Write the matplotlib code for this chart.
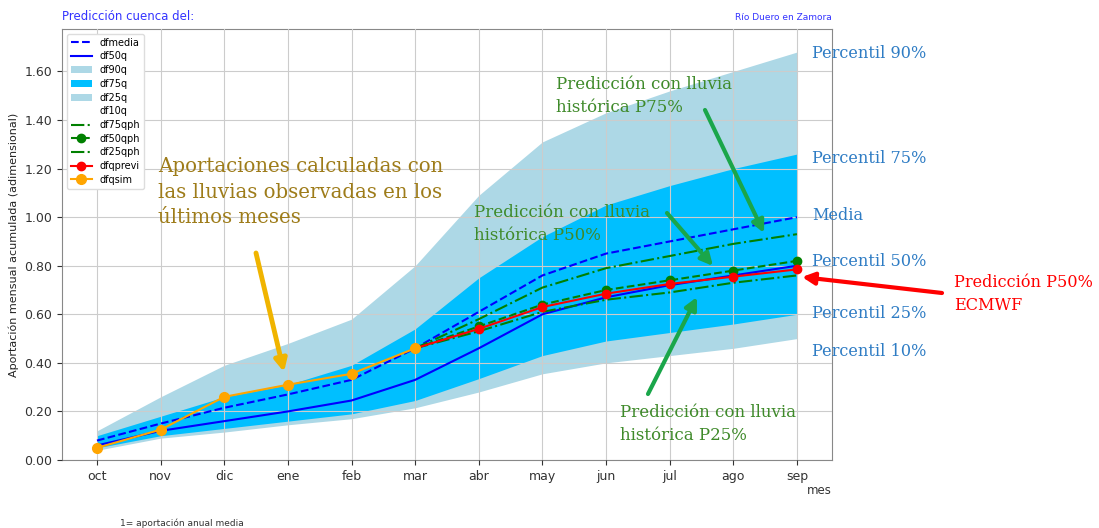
import matplotlib
matplotlib.use("Agg")
import matplotlib.pyplot as plt
import numpy as np

meses = ["oct", "nov", "dic", "ene", "feb", "mar", "abr", "may", "jun", "jul", "ago", "sep"]
df90q = [0.12, 0.26, 0.39, 0.48, 0.58, 0.80, 1.09, 1.31, 1.43, 1.52, 1.60, 1.68]
df75q = [0.10, 0.18, 0.26, 0.31, 0.39, 0.54, 0.75, 0.92, 1.05, 1.13, 1.20, 1.26]
df25q = [0.05, 0.10, 0.13, 0.16, 0.19, 0.245, 0.335, 0.43, 0.49, 0.525, 0.56, 0.60]
df10q = [0.04, 0.09, 0.115, 0.145, 0.17, 0.215, 0.28, 0.355, 0.40, 0.43, 0.46, 0.50]
df50q = [0.06, 0.12, 0.16, 0.20, 0.245, 0.33, 0.46, 0.60, 0.67, 0.72, 0.76, 0.80]
dfmedia = [0.08, 0.15, 0.215, 0.27, 0.33, 0.46, 0.61, 0.76, 0.85, 0.90, 0.95, 1.00]
ph_meses = ["mar", "abr", "may", "jun", "jul", "ago", "sep"]
df75qph = [0.46, 0.58, 0.71, 0.79, 0.84, 0.89, 0.93]
df50qph = [0.46, 0.55, 0.64, 0.70, 0.74, 0.78, 0.82]
df25qph = [0.46, 0.53, 0.61, 0.66, 0.69, 0.73, 0.76]
dfqprevi = [0.46, 0.54, 0.63, 0.685, 0.725, 0.755, 0.785]
sim_meses = ["oct", "nov", "dic", "ene", "feb", "mar"]
dfqsim = [0.05, 0.125, 0.26, 0.31, 0.355, 0.46]
yticks = [0.0, 0.2, 0.4, 0.6, 0.8, 1.0, 1.2, 1.4, 1.6]

x = np.arange(len(meses))
xph = np.array([meses.index(m) for m in ph_meses])
xsim = np.array([meses.index(m) for m in sim_meses])

fig = plt.figure(figsize=(10.99, 5.28), dpi=100)
ax = fig.add_axes([0.0564, 0.1288, 0.7006, 0.8163])

ax.fill_between(x, 0, df90q, color="lightblue", lw=0, label="df90q", zorder=1)
ax.fill_between(x, 0, df75q, color="deepskyblue", lw=0, label="df75q", zorder=1)
ax.fill_between(x, 0, df25q, color="lightblue", lw=0, label="df25q", zorder=1)
ax.fill_between(x, 0, df10q, color="white", lw=0, label="df10q", zorder=1)
ax.plot(x, dfmedia, "--", color="blue", lw=1.5, label="dfmedia", zorder=3)
ax.plot(x, df50q, "-", color="blue", lw=1.5, label="df50q", zorder=3)
ax.plot(xph, df75qph, "-.", color="green", lw=1.5, label="df75qph", zorder=3)
ax.plot(xph, df50qph, "--", color="green", lw=1.5, marker="o", ms=6, label="df50qph", zorder=3)
ax.plot(xph, df25qph, "-.", color="green", lw=1.5, label="df25qph", zorder=3)
ax.plot(xph, dfqprevi, "-", color="red", lw=1.5, marker="o", ms=6, label="dfqprevi", zorder=4)
ax.plot(xsim, dfqsim, "-", color="orange", lw=1.5, marker="o", ms=7, label="dfqsim", zorder=4)

handles, labels = ax.get_legend_handles_labels()
order = ["dfmedia", "df50q", "df90q", "df75q", "df25q", "df10q", "df75qph", "df50qph", "df25qph", "dfqprevi", "dfqsim"]
hd = dict(zip(labels, handles))
ax.legend([hd[k] for k in order], order, loc="upper left", fontsize=7, framealpha=1,
          edgecolor="#dddddd", handlelength=2.2, borderpad=0.4, labelspacing=0.38)

ax.set_xticks(x)
ax.set_xticklabels(meses)
ax.set_yticks(yticks)
ax.set_yticklabels([f"{v:.2f}" for v in yticks])
ax.set_xlim(-0.55, 11.55)
ax.set_ylim(0, 1.775)
ax.tick_params(labelsize=9, colors="#333333")
ax.grid(True, color="#cccccc", lw=0.8)
ax.set_axisbelow(False)
for s in ax.spines.values():
    s.set_color("#888888")
ax.set_ylabel("Aportación mensual acumulada (adimensional)", fontsize=8, color="#222222")

fig.text(62/1099, 1 - 17/528, "Predicción cuenca del:", color="#3333ff", fontsize=8.5, va="center", ha="left")
fig.text(832/1099, 1 - 18/528, "Río Duero en Zamora", color="#3333ff", fontsize=6.5, va="center", ha="right")
fig.text(832/1099, 1 - 490/528, "mes", fontsize=8.5, color="#333333", ha="right", va="center")
fig.text(120/1099, 1 - 523/528, "1= aportación anual media", fontsize=6.5, color="#333333", ha="left", va="center")

serif = ["DejaVu Serif"]

def ftext(px, py, s, color, size, ls=1.4):
    fig.text(px/1099, 1 - py/528, s, color=color, fontsize=size, family=serif, va="center", ha="left",
             linespacing=ls)

def farrow(x0, y0, x1, y1, color, lw=3):
    ax.annotate("", xy=(x1/1099, 1 - y1/528), xycoords="figure fraction",
                xytext=(x0/1099, 1 - y0/528), textcoords="figure fraction",
                arrowprops=dict(arrowstyle="-|>", color=color, lw=lw, mutation_scale=18,
                                shrinkA=0, shrinkB=0), zorder=6)

gold = "#9e7c1a"
green_t = "#3f8a2a"
blue_t = "#2e7cc4"
ftext(158 + 0, 192, "Aportaciones calculadas con\nlas lluvias observadas en los\núltimos meses", gold, 14.2, ls=1.45)
ftext(556, 96, "Predicción con lluvia\nhistórica P75%", green_t, 12, ls=1.45)
ftext(474, 224, "Predicción con lluvia\nhistórica P50%", green_t, 12, ls=1.45)
ftext(620, 424, "Predicción con lluvia\nhistórica P25%", green_t, 12, ls=1.45)
for py, s in [(53, "Percentil 90%"), (158, "Percentil 75%"), (215, "Media"), (261, "Percentil 50%"),
              (314, "Percentil 25%"), (351, "Percentil 10%")]:
    ftext(812, py, s, blue_t, 11.6)
ftext(954, 294, "Predicción P50%\nECMWF", "red", 11.6, ls=1.45)

farrow(256, 253, 284, 372, "#f0b400", lw=3.5)
farrow(705, 110, 764, 233, "#1aa64a")
farrow(667, 213, 713, 266, "#1aa64a")
farrow(648, 394, 697, 297, "#1aa64a")
farrow(942, 293, 802, 277, "red")

fig.savefig("out.png", dpi=100)
